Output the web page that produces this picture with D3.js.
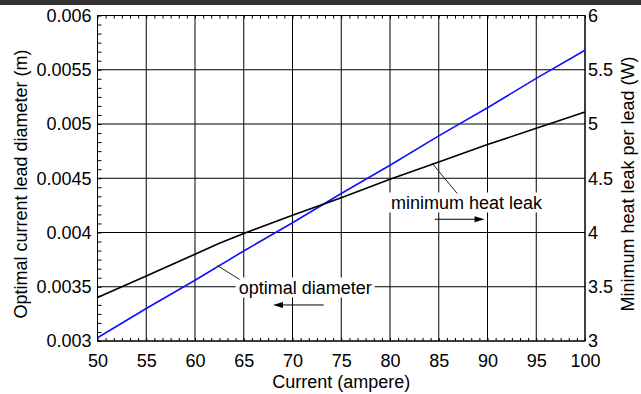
<!DOCTYPE html>
<html>
<head>
<meta charset="utf-8">
<script src="https://cdn.jsdelivr.net/npm/d3@7"></script>
<style>
  body { margin: 0; background: #fff; }
  svg { display: block; }
  text { font-family: "Liberation Sans", Arial, sans-serif; font-size: 18px; fill: #000; }
  .grid line { stroke: #000; stroke-width: 1; }
</style>
</head>
<body>
<svg id="chart" width="641" height="394"></svg>
<script>
// values
const currentB = [50, 55, 60, 65, 70, 75, 80, 85, 90, 95, 100];
const diameter = [0.00303, 0.0033, 0.00356, 0.00383, 0.00409, 0.00436, 0.00462, 0.00489, 0.00515, 0.00542, 0.00568];
const currentK = [50, 55, 60, 62.5, 65, 70, 75, 80, 85, 90, 95, 100];
const heatLeak = [3.4, 3.6, 3.8, 3.9, 3.99, 4.16, 4.32, 4.49, 4.65, 4.81, 4.96, 5.11];

const xTicks = [50, 55, 60, 65, 70, 75, 80, 85, 90, 95, 100];
const leftTicks = [0.003, 0.0035, 0.004, 0.0045, 0.005, 0.0055, 0.006];
const leftLabels = ["0.003", "0.0035", "0.004", "0.0045", "0.005", "0.0055", "0.006"];
const rightTicks = [3, 3.5, 4, 4.5, 5, 5.5, 6];
const rightLabels = ["3", "3.5", "4", "4.5", "5", "5.5", "6"];

const svg = d3.select("#chart");
const W = 641, H = 394;
const pLeft = 97.5, pRight = 585, pTop = 15.5, pBottom = 341;

const x = d3.scaleLinear().domain([50, 100]).range([pLeft, pRight]);
const yL = d3.scaleLinear().domain([0.003, 0.006]).range([pBottom, pTop]);
const yR = d3.scaleLinear().domain([3, 6]).range([pBottom, pTop]);

// dark strip at the very top
svg.append("rect").attr("x", 0).attr("y", 0).attr("width", W).attr("height", 5).attr("fill", "#333");

// grid
const grid = svg.append("g").attr("class", "grid");
grid.selectAll(".vx").data(xTicks).enter().append("line")
  .attr("x1", d => x(d)).attr("x2", d => x(d)).attr("y1", pTop).attr("y2", pBottom);
grid.selectAll(".hy").data(leftTicks).enter().append("line")
  .attr("x1", pLeft).attr("x2", pRight).attr("y1", d => yL(d)).attr("y2", d => yL(d));

// minor ticks (6 subdivisions per major step)
const minorX = d3.range(50, 100.001, 5 / 6);
const minorY = d3.range(0.003, 0.006000001, 0.0005 / 6);
const noLabel = () => "";
svg.append("g").attr("transform", `translate(0,${pBottom})`)
  .call(d3.axisBottom(x).tickValues(minorX).tickSize(-3).tickFormat(noLabel))
  .call(g => g.select(".domain").remove());
svg.append("g").attr("transform", `translate(0,${pTop})`)
  .call(d3.axisTop(x).tickValues(minorX).tickSize(-3).tickFormat(noLabel))
  .call(g => g.select(".domain").remove());
svg.append("g").attr("transform", `translate(${pLeft},0)`)
  .call(d3.axisLeft(yL).tickValues(minorY).tickSize(-4).tickFormat(noLabel))
  .call(g => g.select(".domain").remove());

// tick labels
const xAxis = svg.append("g").attr("transform", `translate(0,${pBottom})`)
  .call(d3.axisBottom(x).tickValues(xTicks).tickSize(0).tickPadding(13.3).tickFormat(d3.format("d")));
const lAxis = svg.append("g").attr("transform", `translate(${pLeft},0)`)
  .call(d3.axisLeft(yL).tickValues(leftTicks).tickSize(0).tickPadding(6).tickFormat((d, i) => leftLabels[i]));
const rAxis = svg.append("g").attr("transform", `translate(${pRight},0)`)
  .call(d3.axisRight(yR).tickValues(rightTicks).tickSize(0).tickPadding(3).tickFormat((d, i) => rightLabels[i]));
[xAxis, lAxis, rAxis].forEach(a => {
  a.select(".domain").remove();
  a.attr("font-size", null).attr("font-family", null);
});

// frame
svg.append("rect").attr("x", pLeft).attr("y", pTop)
  .attr("width", pRight - pLeft).attr("height", pBottom - pTop)
  .attr("fill", "none").attr("stroke", "#000").attr("stroke-width", 1);

// data lines
svg.append("path")
  .datum(currentB.map((c, i) => [c, diameter[i]]))
  .attr("fill", "none").attr("stroke", "#1010ff").attr("stroke-width", 1.6)
  .attr("d", d3.line().x(d => x(d[0])).y(d => yL(d[1])));
svg.append("path")
  .datum(currentK.map((c, i) => [c, heatLeak[i]]))
  .attr("fill", "none").attr("stroke", "#000").attr("stroke-width", 1.6)
  .attr("d", d3.line().x(d => x(d[0])).y(d => yR(d[1])));

// axis titles
svg.append("text").attr("text-anchor", "middle")
  .attr("x", (pLeft + pRight) / 2).attr("y", 387.5).text("Current (ampere)");
svg.append("text").attr("text-anchor", "middle")
  .attr("transform", "translate(27,184) rotate(-90)")
  .text("Optimal current lead diameter (m)");
svg.append("text").attr("text-anchor", "middle")
  .attr("transform", "translate(634,184) rotate(-90)")
  .text("Minimum heat leak per lead (W)");

// annotations
function label(cx, baseline, txt) {
  const g = svg.append("g");
  const rect = g.append("rect").attr("fill", "#fff");
  const t = g.append("text").attr("text-anchor", "middle").attr("x", cx).attr("y", baseline).text(txt);
  const b = t.node().getBBox();
  rect.attr("x", b.x - 3).attr("y", b.y).attr("width", b.width + 6).attr("height", b.height);
  return b;
}
function arrow(x1, x2, yy) {
  const dir = Math.sign(x2 - x1);
  svg.append("line").attr("x1", x1).attr("x2", x2 - dir * 8).attr("y1", yy).attr("y2", yy)
    .attr("stroke", "#000").attr("stroke-width", 1);
  svg.append("path")
    .attr("d", `M${x2},${yy} L${x2 - dir * 10},${yy - 3} L${x2 - dir * 10},${yy + 3} Z`)
    .attr("fill", "#000");
}

const bd = label(x(71.3), 293.5, "optimal diameter");
svg.append("line").attr("x1", bd.x + 1).attr("y1", bd.y + 2)
  .attr("x2", x(62.3)).attr("y2", yL(0.003695))
  .attr("stroke", "#222").attr("stroke-width", 1);
arrow(x(73.2), x(68.0), yL(0.003332));

const bk = label(x(87.85), 208.5, "minimum heat leak");
svg.append("line").attr("x1", x(86.9)).attr("y1", bk.y + 1)
  .attr("x2", x(84.3)).attr("y2", yR(4.64))
  .attr("stroke", "#222").attr("stroke-width", 1);
arrow(x(84.6), x(89.7), yR(4.122));
</script>
</body>
</html>
